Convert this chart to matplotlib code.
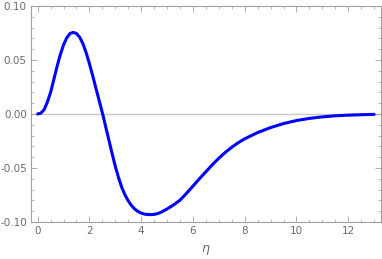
import numpy as np
import matplotlib.pyplot as plt
from matplotlib.ticker import MultipleLocator

# values
eta = [0, 0.125, 0.25, 0.375, 0.5, 0.625, 0.75, 0.875, 1.0, 1.125, 1.25, 1.37,
       1.5, 1.625, 1.75, 1.875, 2.0, 2.125, 2.25, 2.375, 2.5, 2.625, 2.75, 2.875,
       3.0, 3.125, 3.25, 3.375, 3.5, 3.625, 3.75, 3.875, 4.0, 4.125, 4.25, 4.375,
       4.5, 4.625, 4.75, 5.0, 5.25, 5.5, 5.75, 6.0, 6.25, 6.5, 6.75, 7.0, 7.25,
       7.5, 7.75, 8.0, 8.5, 9.0, 9.5, 10.0, 10.5, 11.0, 11.5, 12.0, 12.5, 13.0]
f = [0, 0.0008, 0.004, 0.011, 0.020, 0.032, 0.044, 0.055, 0.064, 0.0705, 0.0745,
     0.0755, 0.0745, 0.0710, 0.0650, 0.0565, 0.0465, 0.0355, 0.0240, 0.0125,
     0.0010, -0.0115, -0.0240, -0.0365, -0.0485, -0.0590, -0.0680, -0.0750,
     -0.0805, -0.0848, -0.0880, -0.0903, -0.0918, -0.0927, -0.0931, -0.0932,
     -0.0930, -0.0923, -0.0912, -0.0880, -0.0842, -0.0798, -0.0735, -0.0668,
     -0.0600, -0.0535, -0.0470, -0.0410, -0.0356, -0.0308, -0.0266, -0.0230,
     -0.0172, -0.0126, -0.0089, -0.0061, -0.0041, -0.0027, -0.0017, -0.0011,
     -0.0007, -0.0004]

fig = plt.figure(figsize=(3.82, 2.59), dpi=100)
ax = fig.add_axes([0.081, 0.143, 0.916, 0.834])

ax.axhline(0, color='#c8c8c8', lw=1.0, zorder=1)
ax.plot(eta, f, color=(0, 0, 1), lw=2.2, zorder=2,
        solid_capstyle='round', solid_joinstyle='round')

ax.set_xlim(-0.26, 13.26)
ax.set_ylim(-0.1, 0.1)
ax.xaxis.set_major_locator(MultipleLocator(2))
ax.xaxis.set_minor_locator(MultipleLocator(0.5))
ax.yaxis.set_major_locator(MultipleLocator(0.05))
ax.yaxis.set_minor_locator(MultipleLocator(0.01))
ax.yaxis.set_major_formatter(plt.FuncFormatter(lambda v, p: f'{v:.2f}'))

for s in ax.spines.values():
    s.set_color('#a0a0a0')
    s.set_linewidth(0.8)
ax.tick_params(which='both', direction='in', top=True, right=True,
               colors='#a0a0a0', labelcolor='#6a6a6a', labelsize=7.5)
ax.tick_params(which='major', length=4, width=0.6, pad=3)
ax.tick_params(which='minor', length=2, width=0.5)
ax.set_xlabel(r'$\eta$', color='#6a6a6a', fontsize=9, labelpad=5)

plt.savefig('out.png', dpi=100)
